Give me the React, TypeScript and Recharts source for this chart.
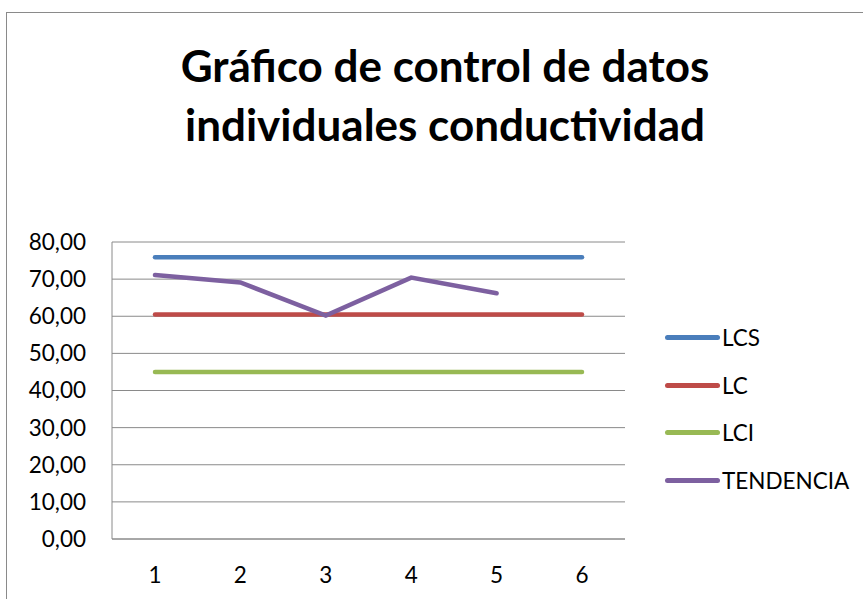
import React from "react";
import { LineChart, Line, XAxis, YAxis, CartesianGrid } from "recharts";

// datos
const categories = ["1", "2", "3", "4", "5", "6"];
const lcs = [75.9, 75.9, 75.9, 75.9, 75.9, 75.9];
const lc = [60.45, 60.45, 60.45, 60.45, 60.45, 60.45];
const lci = [45.0, 45.0, 45.0, 45.0, 45.0, 45.0];
const tendencia: (number | null)[] = [71.1, 69.1, 60.2, 70.4, 66.2, null];
const yTicks = [0, 10, 20, 30, 40, 50, 60, 70, 80];

const SERIES = [
  { key: "LCS", color: "#4A7EBB" },
  { key: "LC", color: "#BE4B48" },
  { key: "LCI", color: "#98B954" },
  { key: "TENDENCIA", color: "#7D60A0" },
];

const FONT = "Lato, 'Open Sans', sans-serif";

const data = categories.map((c, i) => ({
  cat: c,
  LCS: lcs[i],
  LC: lc[i],
  LCI: lci[i],
  TENDENCIA: tendencia[i],
}));

function LegendBox() {
  return (
    <div style={{ position: "absolute", left: 665, top: 314, fontFamily: FONT, fontSize: 22.5, color: "#000" }}>
      {SERIES.map((s) => (
        <div key={s.key} style={{ display: "flex", alignItems: "center", height: 47.5 }}>
          <span
            style={{
              display: "inline-block",
              width: 55,
              height: 5,
              borderRadius: 3,
              background: s.color,
            }}
          />
          <span style={{ marginLeft: 2 }}>{s.key}</span>
        </div>
      ))}
    </div>
  );
}

export default function App() {
  return (
    <div style={{ position: "absolute", left: 0, top: 0, width: 863, height: 599, overflow: "hidden", background: "#fff" }}>
      <div
        style={{
          position: "absolute",
          left: 6,
          top: 12,
          width: 900,
          height: 650,
          border: "1px solid #8a8a8a",
        }}
      />
      <div
        style={{
          position: "absolute",
          left: 0,
          top: 36,
          width: 890,
          textAlign: "center",
          fontFamily: FONT,
          fontWeight: "bold",
          fontSize: 44,
          lineHeight: "59px",
          color: "#000",
        }}
      >
        Gráfico de control de datos
        <br />
        individuales conductividad
      </div>
      <div style={{ position: "absolute", left: 0, top: 0 }}>
        <LineChart
          width={863}
          height={599}
          data={data}
          margin={{ top: 242, right: 238, bottom: 30, left: 52 }}
        >
          <CartesianGrid vertical={false} stroke="#8a8a8a" strokeWidth={1} />
          <XAxis
            dataKey="cat"
            axisLine={{ stroke: "#8a8a8a" }}
            tickLine={false}
            padding={{ left: 43, right: 43 }}
            tick={{ fill: "#000", fontSize: 22.5, fontFamily: FONT }}
            tickMargin={22}
            height={30}
          />
          <YAxis
            domain={[0, 80]}
            ticks={yTicks}
            interval={0}
            width={60}
            axisLine={{ stroke: "#8a8a8a" }}
            tickLine={false}
            tickMargin={20}
            tick={{ fill: "#000", fontSize: 22.5, fontFamily: FONT }}
            tickFormatter={(v: number) => v.toFixed(2).replace(".", ",")}
          />
          {SERIES.map((s) => (
            <Line
              key={s.key}
              type="linear"
              dataKey={s.key}
              stroke={s.color}
              strokeWidth={4.5}
              strokeLinecap="round"
              dot={false}
              activeDot={false}
              isAnimationActive={false}
            />
          ))}
        </LineChart>
      </div>
      <LegendBox />
    </div>
  );
}
